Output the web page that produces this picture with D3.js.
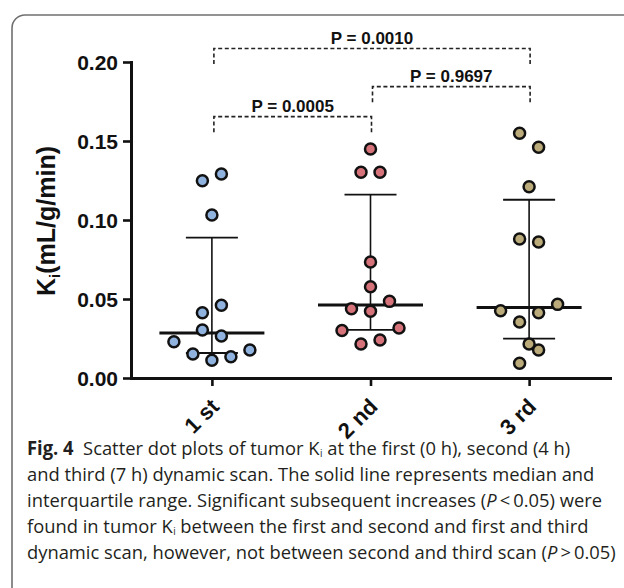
<!DOCTYPE html>
<html><head><meta charset="utf-8">
<script src="https://cdn.jsdelivr.net/npm/d3@7"></script>
<style>body{margin:0;background:#fff} svg{display:block}</style>
</head><body>
<svg id="chart" width="624" height="588"></svg>
<script>
// ---- data ----
const categories = ["1 st", "2 nd", "3 rd"];
const scan1 = [0.0112, 0.0135, 0.0152, 0.0177, 0.0230, 0.0304, 0.0266, 0.0413, 0.0460, 0.1032, 0.1249, 0.1291];
const scan2 = [0.0215, 0.0240, 0.0300, 0.0316, 0.0422, 0.0485, 0.0439, 0.0578, 0.0734, 0.1302, 0.1302, 0.1449];
const scan3 = [0.0093, 0.0177, 0.0215, 0.0354, 0.0413, 0.0426, 0.0466, 0.0880, 0.0861, 0.1211, 0.1549, 0.1460];
const seriesColors = ["#8fb3de", "#d6737a", "#bbab7a"];
const yTicks = [0, 0.05, 0.10, 0.15, 0.20];
const yTitle = ["K", "i", "(mL/g/min)"];
const comparisons = [
  { from: "1 st", to: "3 rd", label: "P = 0.0010", level: 0.2085 },
  { from: "2 nd", to: "3 rd", label: "P = 0.9697", level: 0.1844 },
  { from: "1 st", to: "2 nd", label: "P = 0.0005", level: 0.1654 }
];
const captionLines = [
  [["Fig. 4", "b"], ["  Scatter dot plots of tumor K", ""], ["i", "sub"], [" at the first (0 h), second (4 h)", ""]],
  [["and third (7 h) dynamic scan. The solid line represents median and", ""]],
  [["interquartile range. Significant subsequent increases (", ""], ["P", "i"], ["\u2009<\u20090.05) were", ""]],
  [["found in tumor K", ""], ["i", "sub"], [" between the first and second and first and third", ""]],
  [["dynamic scan, however, not between second and third scan (", ""], ["P", "i"], ["\u2009>\u20090.05)", ""]]
];
const groups = [scan1, scan2, scan3];

// ---- layout ----
const svg = d3.select("#chart");
const FONT = "'Liberation Sans', Arial, Helvetica, sans-serif";
const y = d3.scaleLinear().domain([0, 0.2]).range([378, 62]);
const x = d3.scalePoint().domain(categories).range([131, 610]).padding(0.51);
const slotStep = 9.5, binHeight = 19, r = 5.5;

// frame
svg.append("rect").attr("x", 12).attr("y", 15).attr("width", 700).attr("height", 700)
  .attr("rx", 13).attr("fill", "none").attr("stroke", "#707070").attr("stroke-width", 1.6);

// Prism-style quartiles ((n+1)p rank)
function quant(sorted, p) {
  const h = (sorted.length + 1) * p - 1;
  const lo = Math.max(0, Math.min(sorted.length - 2, Math.floor(h)));
  return sorted[lo] + (h - lo) * (sorted[lo + 1] - sorted[lo]);
}

// scatter layout: bin rows by pixel height, spread symmetrically within each row
function layout(values) {
  const idx = values.map((v, i) => i).sort((a, b) => values[a] - values[b] || a - b);
  const bins = [];
  let cur = null;
  idx.forEach(i => {
    if (!cur || (y(values[cur[0]]) - y(values[i])) >= binHeight) { cur = [i]; bins.push(cur); }
    else cur.push(i);
  });
  const slots = new Array(values.length).fill(0);
  bins.forEach(b => {
    const ord = b.slice().sort((a, c) => a - c);
    const n = ord.length;
    ord.forEach((i, k) => {
      let s;
      if (n % 2 === 1) s = k === 0 ? 0 : (k % 2 === 1 ? 1 : -1) * 2 * Math.ceil(k / 2);
      else s = (k % 2 === 0 ? -1 : 1) * (2 * Math.floor(k / 2) + 1);
      slots[i] = s;
    });
  });
  return values.map((v, i) => ({ v, dx: slots[i] * slotStep }));
}

// error bars (median + IQR)
const bars = svg.append("g");
groups.forEach((vals, gi) => {
  const s = vals.slice().sort(d3.ascending);
  const cx = x(categories[gi]);
  const q1 = quant(s, 0.25), med = quant(s, 0.5), q3 = quant(s, 0.75);
  const g = bars.append("g").attr("stroke", "#111");
  g.append("line").attr("x1", cx).attr("x2", cx).attr("y1", y(q3)).attr("y2", y(q1)).attr("stroke-width", 1.6);
  [q1, q3].forEach(q => g.append("line").attr("x1", cx - 26).attr("x2", cx + 26)
    .attr("y1", y(q)).attr("y2", y(q)).attr("stroke-width", 1.8));
  g.append("line").attr("x1", cx - 52.5).attr("x2", cx + 52.5)
    .attr("y1", y(med)).attr("y2", y(med)).attr("stroke-width", 3);
});

// dots
groups.forEach((vals, gi) => {
  const cx = x(categories[gi]);
  svg.append("g").selectAll("circle").data(layout(vals)).join("circle")
    .attr("cx", d => cx + d.dx).attr("cy", d => y(d.v)).attr("r", r)
    .attr("fill", seriesColors[gi]).attr("stroke", "#111").attr("stroke-width", 2.5);
});

// axes
const yAxis = svg.append("g").attr("transform", "translate(131,0)")
  .call(d3.axisLeft(y).tickValues(yTicks).tickFormat(d3.format(".2f")).tickSize(8).tickSizeOuter(0).tickPadding(5));
const xAxis = svg.append("g").attr("transform", "translate(0,378)")
  .call(d3.axisBottom(x).tickSize(8).tickSizeOuter(0));
[yAxis, xAxis].forEach(a => {
  a.select(".domain").attr("stroke", "#111").attr("stroke-width", 3).attr("stroke-linecap", "square");
  a.selectAll(".tick line").attr("stroke", "#111").attr("stroke-width", 2.6);
  a.selectAll("text").attr("fill", "#111").style("font-family", FONT).style("font-weight", "bold");
});
yAxis.selectAll("text").style("font-size", "21px").attr("dy", "0.36em");
xAxis.selectAll("text").style("font-size", "22px").attr("text-anchor", "end")
  .attr("x", 0).attr("y", 0).attr("dy", null).attr("transform", "translate(8,30) rotate(-45)");

// y title
const yt = svg.append("text").attr("transform", "translate(55,221) rotate(-90)")
  .attr("text-anchor", "middle").style("font-family", FONT).style("font-weight", "bold")
  .style("font-size", "25px").attr("fill", "#111");
yt.append("tspan").text(yTitle[0]);
yt.append("tspan").text(yTitle[1]).attr("dy", 5).style("font-size", "15px");
yt.append("tspan").text(yTitle[2]).attr("dy", -5);

// significance brackets
const br = svg.append("g");
comparisons.forEach(c => {
  const x1 = x(c.from) + 2, x2 = x(c.to) + 1, yy = y(c.level), leg = 15.5;
  br.append("path").attr("d", `M${x1},${yy + leg}V${yy}H${x2}V${yy + leg}`)
    .attr("fill", "none").attr("stroke", "#222").attr("stroke-width", 1.6).attr("stroke-dasharray", "4,2.6");
  br.append("text").attr("x", (x1 + x2) / 2).attr("y", yy - 5).attr("text-anchor", "middle")
    .style("font-family", FONT).style("font-weight", "bold").style("font-size", "17px")
    .attr("fill", "#111").text(c.label);
});

// caption
const cap = svg.append("g");
const CFONT = "'Open Sans', 'Noto Sans', sans-serif";
captionLines.forEach((line, li) => {
  const t = cap.append("text").attr("x", 0).attr("y", 455 + li * 26)
    .style("font-family", CFONT).style("font-size", "19px").style("white-space", "pre")
    .attr("fill", "#231f20");
  let shifted = false;
  line.forEach(([txt, st]) => {
    const ts = t.append("tspan").text(txt);
    if (st === "b") ts.style("font-weight", "bold");
    if (st === "i") ts.style("font-style", "italic");
    if (st === "sub") { ts.style("font-size", "10px").attr("dy", 2.2).attr("dx", 0.5); shifted = true; }
    else if (shifted) { ts.attr("dy", -2.2); shifted = false; }
  });
});
let maxW = 0;
cap.selectAll("text").each(function () { maxW = Math.max(maxW, this.getComputedTextLength()); });
const sx = 589 / maxW;
cap.attr("transform", `translate(27,0) scale(${sx},1)`);
</script>
</body></html>
